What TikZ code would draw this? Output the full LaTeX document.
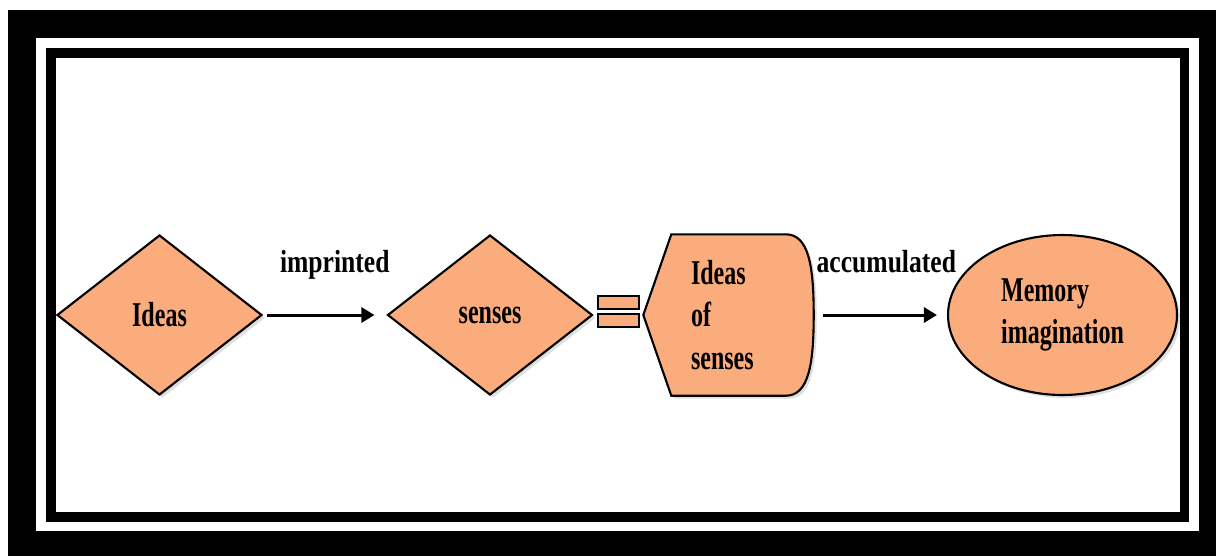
\documentclass[tikz,border=0pt]{standalone}
\usepackage{fontspec}
\setmainfont{Liberation Serif}[FakeStretch=0.69]
\newfontfamily\labelfont{Liberation Serif}[FakeStretch=0.8]
\usetikzlibrary{positioning,shapes.geometric,arrows.meta,backgrounds,shadows}
\definecolor{peach}{RGB}{250,172,124}

\begin{document}
\begin{tikzpicture}[
    % GLOBAL CFG
    font=\fontsize{9.9}{12}\selectfont\bfseries,
    >={Triangle[length=1.3mm,width=1.5mm]},
    % Styles
    outline/.style={% border and fill of every block
        draw,
        line width=0.6pt,
        fill=peach,
        },
    box/.style={% blocks with a soft shadow
        outline,
        inner sep=0pt,
        drop shadow={opacity=0.25, shadow xshift=0.3mm, shadow yshift=-0.3mm},
        },
    dia/.style={% diamonds
        box,
        diamond,
        minimum width=2.05cm,
        minimum height=1.6cm,
        },
    bar/.style={% the two halves of the equals sign
        outline,
        rectangle,
        minimum width=0.41cm,
        minimum height=0.13cm,
        inner sep=0pt,
        },
    ArrowC/.style={% plain arrows between blocks
        line width=0.85pt,
        },
    mylabel/.style={% words above the arrows
        font=\labelfont\fontsize{9.1}{11}\selectfont\bfseries,
        anchor=base,
        inner sep=0pt,
        yshift=0.43cm,
        },
    ]

    \useasboundingbox (0,0) rectangle (12.16,5.56);

    % Draw the blocks
    \node [dia] (ideas) at (1.595,2.41) {Ideas};
    \node [dia] (senses) at (4.90,2.41) {senses};
    \node [bar] (eqtop) at (6.185,2.535) {};
    \node [bar] (eqbot) at (6.185,2.355) {};
    \node [text width=0.75cm, align=left, minimum width=1.69cm, minimum height=1.6cm,
        inner sep=0pt] (ios) at (7.285,2.41) {Ideas\\of\\senses};
    \node [box, ellipse, minimum width=2.29cm, minimum height=1.6cm, align=left]
        (mem) at (10.625,2.41) {Memory\\imagination};

    % Frame and the display shape go behind everything
    \begin{scope}[on background layer]
        \fill [white] (0,0) rectangle (12.16,5.56);
        \fill [black] (0.08,0) rectangle (12.16,5.46);
        \fill [white] (0.36,0.25) rectangle (11.99,5.18);
        \fill [black] (0.46,0.34) rectangle (11.89,5.08);
        \fill [white] (0.56,0.44) rectangle (11.80,4.98);
        \draw [outline, drop shadow={opacity=0.25, shadow xshift=0.3mm, shadow yshift=-0.3mm}]
            (ios.west) -- ([xshift=0.28cm]ios.north west)
            -- ([xshift=-0.28cm]ios.north east)
            .. controls ([xshift=-0.05cm]ios.north east) and ([yshift=0.49cm]ios.east) .. (ios.east)
            .. controls ([yshift=-0.49cm]ios.east) and ([xshift=-0.05cm]ios.south east)
            .. ([xshift=-0.28cm]ios.south east)
            -- ([xshift=0.28cm]ios.south west) -- cycle;
    \end{scope}

    % Connect
    \draw [->, ArrowC, shorten <=0.04cm, shorten >=0.12cm] (ideas.east) -- (senses.west)
        node [mylabel, midway, xshift=0.10cm] {imprinted};
    \draw [->, ArrowC, shorten <=0.09cm, shorten >=0.10cm] (ios.east) -- (mem.west)
        node [mylabel, midway, xshift=0.06cm] {accumulated};

\end{tikzpicture}
\end{document}
